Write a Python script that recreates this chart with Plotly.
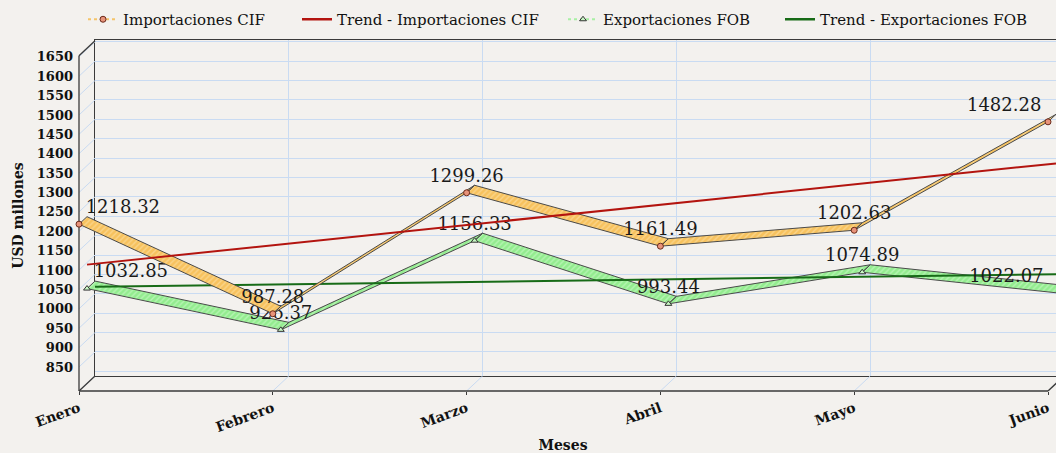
import numpy as np
import plotly.graph_objects as go

# ---------------- data ----------------
months = ["Enero", "Febrero", "Marzo", "Abril", "Mayo", "Junio"]
importaciones = [1218.32, 987.28, 1299.26, 1161.49, 1202.63, 1482.28]
exportaciones = [1032.85, 926.37, 1156.33, 993.44, 1074.89, 1022.07]
y_ticks = list(range(850, 1651, 50))
y_floor = 788          # value at the floor of the chart
y_top = 1652.6         # value at the top of the front axis

# ---------------- geometry (pixels) ----------------
W, H = 1056, 453
ML, MR, MT, MB = 70, 0, 36, 58
PW, PH = W - ML - MR, H - MT - MB
X0, Y0 = 79, 391            # front origin pixel
CAT_PX = 193.8              # px per category
VAL_PX = 0.3877             # px per value unit
DEPTH_X, DEPTH_Y = 16, 15   # 3D depth offset in px
BACK_TOP = 40

DX = DEPTH_X / CAT_PX
DY = DEPTH_Y / VAL_PX

xi = np.arange(len(months), dtype=float)
FONT = "DejaVu Serif"
GRID = "#c9dbf2"
FRAME = "#3a3a3a"

front_x_range = [-(X0 - ML) / CAT_PX, (W - MR - X0) / CAT_PX]
front_y_range = [y_floor - (H - MB - Y0) / VAL_PX, y_floor + (Y0 - MT) / VAL_PX]
back_x_range = [0, (W - MR - (X0 + DEPTH_X)) / CAT_PX]
back_y_range = [y_floor, y_floor + ((Y0 - DEPTH_Y) - BACK_TOP) / VAL_PX]

fig = go.Figure()

# invisible trace so that the back-wall subplot is created
fig.add_trace(go.Scatter(x=[None], y=[None], xaxis="x", yaxis="y", showlegend=False, hoverinfo="skip"))


def ribbon(vals, d0, d1):
    xs, ys = [], []
    for i in range(len(vals) - 1):
        pts = [
            (xi[i] + d0 * DX, vals[i] + d0 * DY),
            (xi[i + 1] + d0 * DX, vals[i + 1] + d0 * DY),
            (xi[i + 1] + d1 * DX, vals[i + 1] + d1 * DY),
            (xi[i] + d1 * DX, vals[i] + d1 * DY),
            (xi[i] + d0 * DX, vals[i] + d0 * DY),
        ]
        xs += [p[0] for p in pts] + [None]
        ys += [p[1] for p in pts] + [None]
    return xs, ys


def trend(vals, depth):
    k, b = np.polyfit(xi, np.array(vals), 1)
    tx = np.array([xi[0], xi[-1]])
    return tx + depth * DX, k * tx + b + depth * DY


series = [
    dict(name="Exportaciones FOB", vals=exportaciones, d0=0.5, d1=1.0,
         fill="#93ec8f", pat="#d9fbd6", mcolor="#c8f7c4", symbol="triangle-up",
         tcolor="#176b17"),
    dict(name="Importaciones CIF", vals=importaciones, d0=0.0, d1=0.5,
         fill="#f7c25e", pat="#fde7b8", mcolor="#e8937a", symbol="circle",
         tcolor="#b3140f"),
]

for s in series:
    rx, ry = ribbon(s["vals"], s["d0"], s["d1"])
    fig.add_trace(go.Scatter(
        x=rx, y=ry, xaxis="x2", yaxis="y2", mode="lines", fill="toself",
        fillcolor=s["fill"],
        fillpattern=dict(shape="/", bgcolor=s["fill"], fgcolor=s["pat"], size=4, solidity=0.35),
        line=dict(color="#4a4a4a", width=1), showlegend=False, hoverinfo="skip"))
    tx, ty = trend(s["vals"], s["d1"])
    fig.add_trace(go.Scatter(
        x=tx, y=ty, xaxis="x2", yaxis="y2", mode="lines",
        line=dict(color=s["tcolor"], width=2), showlegend=False))
    mx = xi + s["d0"] * DX
    my = np.array(s["vals"]) + s["d0"] * DY
    fig.add_trace(go.Scatter(
        x=mx, y=my, xaxis="x2", yaxis="y2", mode="markers",
        marker=dict(symbol=s["symbol"], size=6, color=s["mcolor"],
                    line=dict(color="#6b2a1a" if s["symbol"] == "circle" else "#333", width=1)),
        cliponaxis=False, showlegend=False))
    # value labels (kept inside the visible range)
    lx = np.minimum(mx, front_x_range[1] - 0.03)
    pos = ["top right"] + ["top center"] * (len(months) - 2) + ["top left"]
    fig.add_trace(go.Scatter(
        x=lx, y=my, xaxis="x2", yaxis="y2", mode="markers+text",
        marker=dict(size=9, opacity=0),
        text=[f"{v:.2f}" for v in s["vals"]], textposition=pos,
        textfont=dict(family=FONT, size=18, color="#1a1a1a"),
        cliponaxis=False, showlegend=False, hoverinfo="skip"))

# legend entries, each in its own legend box
legend_items = [
    dict(name="Importaciones CIF", mode="lines+markers", line=dict(color="#f5c469", width=2, dash="dot"),
         marker=dict(symbol="circle", size=6, color="#e8937a", line=dict(color="#6b2a1a", width=1))),
    dict(name="Trend - Importaciones CIF", mode="lines", line=dict(color="#b3140f", width=2.5)),
    dict(name="Exportaciones FOB", mode="lines+markers", line=dict(color="#a8f0a4", width=2, dash="dot"),
         marker=dict(symbol="triangle-up", size=6, color="#c8f7c4", line=dict(color="#333", width=1))),
    dict(name="Trend - Exportaciones FOB", mode="lines", line=dict(color="#176b17", width=2.5)),
]
legend_text_px = [123, 337, 603, 820]
legend_ids = ["legend", "legend2", "legend3", "legend4"]
for it, lid in zip(legend_items, legend_ids):
    fig.add_trace(go.Scatter(x=[None], y=[None], xaxis="x2", yaxis="y2", showlegend=True,
                             legend=lid, **it))

# ---------------- frame shapes (front plane + depth) ----------------
shapes = []
def seg(x0, y0, x1, y1, color, width):
    shapes.append(dict(type="line", xref="x2", yref="y2", x0=x0, y0=y0, x1=x1, y1=y1,
                       line=dict(color=color, width=width), layer="below"))

for v in y_ticks:
    seg(0, v, DX, v + DY, GRID, 1)
for i in xi:
    seg(i, y_floor, i + DX, y_floor + DY, GRID, 1)
seg(0, y_floor, 0, y_top, FRAME, 1.3)
seg(0, y_floor, xi[-1], y_floor, FRAME, 1.3)
seg(0, y_top, DX, y_top + DY, FRAME, 1.3)
seg(0, y_floor, DX, y_floor + DY, FRAME, 1.3)
seg(xi[-1], y_floor, xi[-1] + DX, y_floor + DY, FRAME, 1.3)

# ---------------- layout ----------------
legend_common = dict(orientation="h", xanchor="left", y=1 + (MT - 3) / PH, yanchor="top",
                     font=dict(family=FONT, size=15, color="#111"), bgcolor="rgba(0,0,0,0)")
legends = {}
for lid, tpx in zip(legend_ids, legend_text_px):
    legends[lid] = dict(x=(tpx - 40 - ML) / PW, **legend_common)

fig.update_layout(
    width=W, height=H,
    margin=dict(l=ML, r=MR, t=MT, b=MB, autoexpand=False),
    paper_bgcolor="#f3f1ee",
    plot_bgcolor="rgba(0,0,0,0)",
    font=dict(family=FONT, color="#111"),
    shapes=shapes,
    showlegend=True,
    **legends,
    # back wall
    xaxis=dict(domain=[(X0 + DEPTH_X - ML) / PW, 1], range=back_x_range, anchor="y",
               showgrid=True, gridcolor=GRID, gridwidth=1, dtick=1, tick0=0,
               showticklabels=False, ticks="", zeroline=False, automargin=False,
               showline=True, mirror=True, linecolor=FRAME, linewidth=1.3),
    yaxis=dict(domain=[(H - MB - (Y0 - DEPTH_Y)) / PH, (H - MB - BACK_TOP) / PH], range=back_y_range,
               anchor="x", showgrid=True, gridcolor=GRID, gridwidth=1, dtick=50, tick0=800,
               showticklabels=False, ticks="", zeroline=False, automargin=False,
               showline=True, linecolor=FRAME, linewidth=1.3),
    # front axes
    xaxis2=dict(domain=[0, 1], range=front_x_range, anchor="free", position=(H - MB - Y0) / PH,
                showgrid=False, zeroline=False, showline=False, automargin=False,
                tickmode="array", tickvals=xi, ticktext=months, tickangle=-20,
                ticks="outside", ticklen=3, tickcolor=FRAME,
                tickfont=dict(family=FONT, size=14, color="#111", weight="bold"),
                title=dict(text="<b>Meses</b>", font=dict(family=FONT, size=14, color="#111"), standoff=8)),
    yaxis2=dict(domain=[0, 1], range=front_y_range, anchor="free", position=(X0 - ML) / PW,
                showgrid=False, zeroline=False, showline=False, automargin=False,
                tickmode="array", tickvals=y_ticks, ticks="", ticklabelstandoff=6,
                tickfont=dict(family=FONT, size=13, color="#111", weight="bold"),
                title=dict(text="<b>USD millones</b>", font=dict(family=FONT, size=14, color="#111"), standoff=8)),
)

fig.write_html("out.html", config={"displayModeBar": False},
               post_script="document.body.style.margin='0';document.body.style.background='#f3f1ee';")
